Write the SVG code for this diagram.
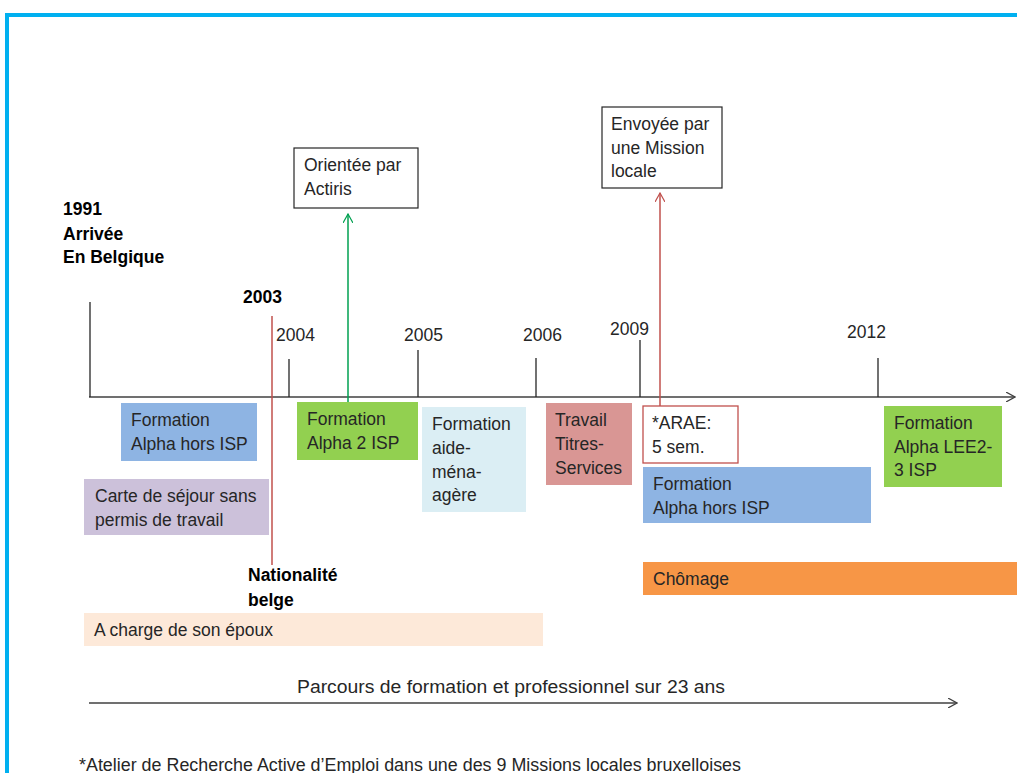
<svg xmlns="http://www.w3.org/2000/svg" width="1017" height="773" viewBox="0 0 1017 773">
  <style>
    .t { font-family: "Liberation Sans", Arial, sans-serif; font-size: 17.5px; fill: #262626; }
    .b { font-weight: bold; fill: #000; }
    .axis { stroke: #404040; stroke-width: 1.5; fill: none; }
    .tick { stroke: #262626; stroke-width: 1.3; }
  </style>
  <defs>
    <marker id="open" viewBox="0 0 10 10" refX="9" refY="5" markerWidth="10" markerHeight="10" markerUnits="userSpaceOnUse" orient="auto">
      <path d="M0,0 L9,5 L0,10" fill="none" stroke="#404040" stroke-width="1.2"/>
    </marker>
    <marker id="openG" viewBox="0 0 10 10" refX="9" refY="5" markerWidth="10" markerHeight="10" markerUnits="userSpaceOnUse" orient="auto">
      <path d="M0,0 L9,5 L0,10" fill="none" stroke="#00A050" stroke-width="1.2"/>
    </marker>
    <marker id="openR" viewBox="0 0 10 10" refX="9" refY="5" markerWidth="10" markerHeight="10" markerUnits="userSpaceOnUse" orient="auto">
      <path d="M0,0 L9,5 L0,10" fill="none" stroke="#C0504D" stroke-width="1.2"/>
    </marker>
  </defs>

  <rect width="1017" height="773" fill="#fff"/>
  <!-- frame -->
  <rect x="7" y="15" width="1020" height="770" fill="none" stroke="#00B0F0" stroke-width="4"/>

  <!-- connectors: timeline, ticks, vertical markers -->
  <g id="connectors">
    <line class="axis" x1="89" y1="397" x2="1015" y2="397" marker-end="url(#open)"/>
    <line class="tick" x1="90" y1="302" x2="90" y2="397"/>
    <line class="tick" x1="289" y1="359" x2="289" y2="397"/>
    <line class="tick" x1="418" y1="350" x2="418" y2="397"/>
    <line class="tick" x1="536" y1="358" x2="536" y2="397"/>
    <line class="tick" x1="640" y1="340" x2="640" y2="397"/>
    <line class="tick" x1="878" y1="358" x2="878" y2="397"/>
    <line x1="272" y1="316" x2="272" y2="565" stroke="#C0504D" stroke-width="1.5"/>
    <line x1="348" y1="402" x2="348" y2="214" stroke="#00A050" stroke-width="1.5" marker-end="url(#openG)"/>
    <line x1="660" y1="406" x2="660" y2="193" stroke="#C0504D" stroke-width="1.5" marker-end="url(#openR)"/>
    <line class="axis" x1="89" y1="703" x2="957" y2="703" marker-end="url(#open)"/>
  </g>

  <!-- year labels -->
  <g id="years">
    <text class="t b" x="63" y="215">1991</text>
    <text class="t b" x="63" y="240">Arrivée</text>
    <text class="t b" x="63" y="263">En Belgique</text>
    <text class="t b" x="243" y="303">2003</text>
    <text class="t" x="276" y="341">2004</text>
    <text class="t" x="404" y="341">2005</text>
    <text class="t" x="523" y="341">2006</text>
    <text class="t" x="610" y="335">2009</text>
    <text class="t" x="847" y="338">2012</text>
  </g>

  <g id="orientee">
    <rect x="294" y="148" width="124" height="60" fill="#fff" stroke="#262626" stroke-width="1.2"/>
    <text class="t" x="304" y="171">Orientée par</text>
    <text class="t" x="304" y="195">Actiris</text>
  </g>

  <g id="envoyee">
    <rect x="602" y="107" width="120" height="81" fill="#fff" stroke="#262626" stroke-width="1.2"/>
    <text class="t" x="611" y="130">Envoyée par</text>
    <text class="t" x="611" y="154">une Mission</text>
    <text class="t" x="611" y="177">locale</text>
  </g>

  <g id="alpha-hors-1">
    <rect x="121" y="403" width="136" height="58" fill="#8EB4E3"/>
    <text class="t" x="131" y="426">Formation</text>
    <text class="t" x="131" y="450">Alpha hors ISP</text>
  </g>

  <g id="alpha-2">
    <rect x="297" y="402" width="121" height="58" fill="#92D050"/>
    <text class="t" x="307" y="425">Formation</text>
    <text class="t" x="307" y="449">Alpha 2 ISP</text>
  </g>

  <g id="aide-menagere">
    <rect x="422" y="407" width="104" height="105" fill="#DBEEF4"/>
    <text class="t" x="432" y="430">Formation</text>
    <text class="t" x="432" y="454">aide-</text>
    <text class="t" x="432" y="478">ména-</text>
    <text class="t" x="432" y="501">agère</text>
  </g>

  <g id="titres-services">
    <rect x="546" y="403" width="86" height="82" fill="#D99694"/>
    <text class="t" x="555" y="426">Travail</text>
    <text class="t" x="555" y="450">Titres-</text>
    <text class="t" x="555" y="474">Services</text>
  </g>

  <g id="arae">
    <rect x="643" y="406" width="95" height="57" fill="#fff" stroke="#C0504D" stroke-width="1.3"/>
    <text class="t" x="652" y="429">*ARAE:</text>
    <text class="t" x="652" y="453">5 sem.</text>
  </g>

  <g id="alpha-hors-2">
    <rect x="643" y="467" width="228" height="56" fill="#8EB4E3"/>
    <text class="t" x="653" y="490">Formation</text>
    <text class="t" x="653" y="514">Alpha hors ISP</text>
  </g>

  <g id="alpha-lee">
    <rect x="884" y="406" width="118" height="81" fill="#92D050"/>
    <text class="t" x="894" y="429">Formation</text>
    <text class="t" x="894" y="453">Alpha LEE2-</text>
    <text class="t" x="894" y="476">3 ISP</text>
  </g>

  <g id="carte-sejour">
    <rect x="84" y="479" width="185" height="56" fill="#CCC1DA"/>
    <text class="t" x="95" y="502">Carte de séjour sans</text>
    <text class="t" x="95" y="526">permis de travail</text>
  </g>

  <g id="nationalite">
    <text class="t b" x="248" y="581">Nationalité</text>
    <text class="t b" x="248" y="606">belge</text>
  </g>

  <g id="chomage">
    <rect x="643" y="562" width="380" height="33" fill="#F79646"/>
    <text class="t" x="653" y="585">Chômage</text>
  </g>

  <g id="a-charge">
    <rect x="84" y="613" width="459" height="33" fill="#FDE9D9"/>
    <text class="t" x="94" y="636">A charge de son époux</text>
  </g>

  <g id="parcours">
    <text class="t" x="297" y="693" textLength="428" lengthAdjust="spacingAndGlyphs">Parcours de formation et professionnel sur 23 ans</text>
  </g>

  <g id="footnote">
    <text class="t" x="79" y="771" textLength="662" lengthAdjust="spacingAndGlyphs">*Atelier de Recherche Active d’Emploi dans une des 9 Missions locales bruxelloises</text>
  </g>
</svg>
